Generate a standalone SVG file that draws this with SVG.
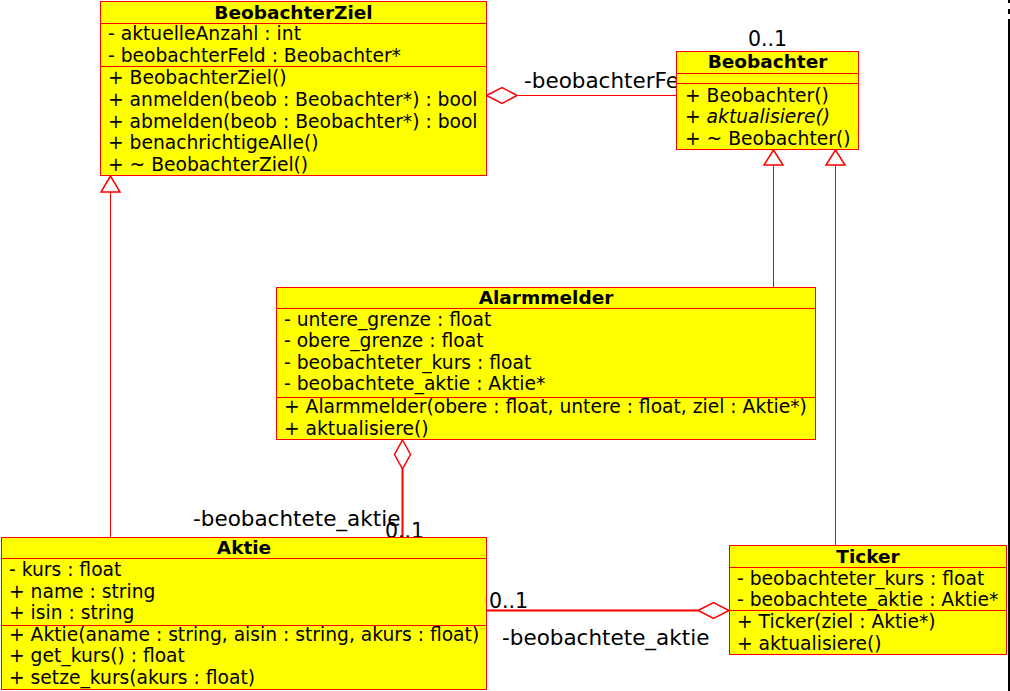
<svg xmlns="http://www.w3.org/2000/svg" width="1010" height="691" viewBox="0 0 1010 691">
<style>
.box{fill:#ffff00;stroke:#ff0000;stroke-width:1}
.sep{stroke:#ff0000;stroke-width:1}
.t{font-family:"DejaVu Sans","Liberation Sans",sans-serif;font-size:18.7px;fill:#000}
.title{font-family:"DejaVu Sans","Liberation Sans",sans-serif;font-size:18.5px;font-weight:bold;fill:#000;text-anchor:middle}
.lbl{font-family:"DejaVu Sans","Liberation Sans",sans-serif;font-size:21.5px;fill:#000}
.mult{font-family:"DejaVu Sans","Liberation Sans",sans-serif;font-size:20.5px;fill:#000}
.thin{stroke:#ff0000;stroke-width:1;fill:none}
.thick{stroke:#ff0000;stroke-width:2;fill:none}
.head{stroke:#ff0000;stroke-width:1.5;fill:#ffffff}
</style>
<rect width="1010" height="691" fill="#ffffff"/>
<line x1="1009" y1="0" x2="1009" y2="3" stroke="#000" stroke-width="2"/>
<line x1="1009" y1="9" x2="1009" y2="14" stroke="#000" stroke-width="2"/>
<line x1="1009" y1="19" x2="1009" y2="691" stroke="#000" stroke-width="2"/>
<g id="connectors">
  <line class="thin" x1="517" y1="95.5" x2="677" y2="95.5"/>
  <polygon class="head" points="486.5,95.5 502,87.5 517,95.5 502,103.5"/>
  <text class="lbl" x="524" y="88">-beobachterFeld</text>
  <text class="mult" x="748" y="46">0..1</text>
  <line class="thin" x1="773.5" y1="287" x2="773.5" y2="165"/>
  <polygon class="head" points="773.5,150 764,165 783,165"/>
  <line class="thin" x1="835.5" y1="545" x2="835.5" y2="165"/>
  <polygon class="head" points="835.5,150 826,165 845,165"/>
  <line class="thin" x1="110.5" y1="537" x2="110.5" y2="192"/>
  <polygon class="head" points="110.5,176 101,192 120,192"/>
  <line class="thick" x1="402.5" y1="469" x2="402.5" y2="537"/>
  <polygon class="head" points="402.5,440 410.5,454.5 402.5,469 394.5,454.5"/>
  <text class="lbl" x="193" y="526">-beobachtete_aktie</text>
  <text class="mult" x="385" y="538">0..1</text>
  <line class="thick" x1="486" y1="610.5" x2="698" y2="610.5"/>
  <polygon class="head" points="698,610.5 713.5,602.5 729,610.5 713.5,618.5"/>
  <text class="mult" x="489" y="608">0..1</text>
  <text class="lbl" x="502" y="645">-beobachtete_aktie</text>
</g>
<g id="BeobachterZiel">
  <rect class="box" x="100.5" y="1.5" width="386" height="174"/>
  <line class="sep" x1="100.5" y1="23.5" x2="486.5" y2="23.5"/>
  <line class="sep" x1="100.5" y1="66.5" x2="486.5" y2="66.5"/>
  <text class="title" x="293.5" y="19">BeobachterZiel</text>
  <text class="t" x="108" y="39.5">- aktuelleAnzahl : int</text>
  <text class="t" x="108" y="61.5">- beobachterFeld : Beobachter*</text>
  <text class="t" x="108" y="83.5">+ BeobachterZiel()</text>
  <text class="t" x="108" y="105.5">+ anmelden(beob : Beobachter*) : bool</text>
  <text class="t" x="108" y="127.5">+ abmelden(beob : Beobachter*) : bool</text>
  <text class="t" x="108" y="149">+ benachrichtigeAlle()</text>
  <text class="t" x="108" y="171">+ ~ BeobachterZiel()</text>
</g>
<g id="Beobachter">
  <rect class="box" x="676.5" y="51.5" width="182" height="98"/>
  <line class="sep" x1="676.5" y1="73.5" x2="858.5" y2="73.5"/>
  <line class="sep" x1="676.5" y1="83.5" x2="858.5" y2="83.5"/>
  <text class="title" x="767.5" y="68">Beobachter</text>
  <text class="t" x="685" y="101.5">+ Beobachter()</text>
  <text class="t" x="685" y="123">+ <tspan font-style="italic">aktualisiere()</tspan></text>
  <text class="t" x="685" y="145">+ ~ Beobachter()</text>
</g>
<g id="Alarmmelder">
  <rect class="box" x="276.5" y="287.5" width="539" height="152"/>
  <line class="sep" x1="276.5" y1="308.5" x2="815.5" y2="308.5"/>
  <line class="sep" x1="276.5" y1="397.5" x2="815.5" y2="397.5"/>
  <text class="title" x="546" y="303.5">Alarmmelder</text>
  <text class="t" x="284" y="325.5">- untere_grenze : float</text>
  <text class="t" x="284" y="347">- obere_grenze : float</text>
  <text class="t" x="284" y="368.5">- beobachteter_kurs : float</text>
  <text class="t" x="284" y="390">- beobachtete_aktie : Aktie*</text>
  <text class="t" x="284" y="413">+ Alarmmelder(obere : float, untere : float, ziel : Aktie*)</text>
  <text class="t" x="284" y="434.5">+ aktualisiere()</text>
</g>
<g id="Aktie">
  <rect class="box" x="1.5" y="537.5" width="485" height="152"/>
  <line class="sep" x1="1.5" y1="558.5" x2="486.5" y2="558.5"/>
  <line class="sep" x1="1.5" y1="625.5" x2="486.5" y2="625.5"/>
  <text class="title" x="244" y="553.5">Aktie</text>
  <text class="t" x="9" y="576">- kurs : float</text>
  <text class="t" x="9" y="597.5">+ name : string</text>
  <text class="t" x="9" y="619">+ isin : string</text>
  <text class="t" x="9" y="640.5">+ Aktie(aname : string, aisin : string, akurs : float)</text>
  <text class="t" x="9" y="662">+ get_kurs() : float</text>
  <text class="t" x="9" y="684">+ setze_kurs(akurs : float)</text>
</g>
<g id="Ticker">
  <rect class="box" x="729.5" y="545.5" width="277" height="109"/>
  <line class="sep" x1="729.5" y1="567.5" x2="1006.5" y2="567.5"/>
  <line class="sep" x1="729.5" y1="610.5" x2="1006.5" y2="610.5"/>
  <text class="title" x="868" y="562.5">Ticker</text>
  <text class="t" x="737" y="584.5">- beobachteter_kurs : float</text>
  <text class="t" x="737" y="606">- beobachtete_aktie : Aktie*</text>
  <text class="t" x="737" y="627.5">+ Ticker(ziel : Aktie*)</text>
  <text class="t" x="737" y="649.5">+ aktualisiere()</text>
</g>
</svg>
